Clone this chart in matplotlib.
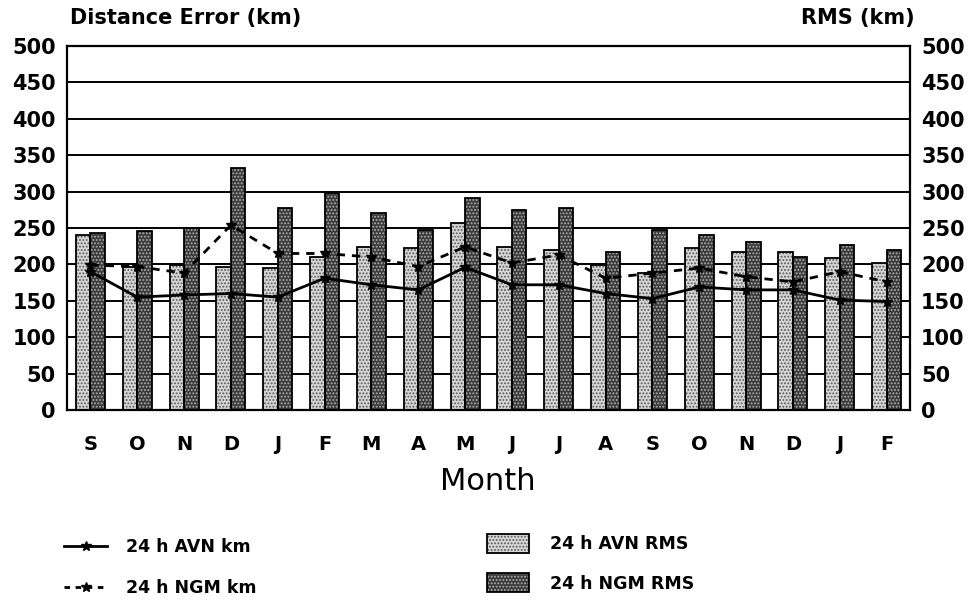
import matplotlib
matplotlib.use("Agg")
import matplotlib.pyplot as plt
import numpy as np
from matplotlib.patches import Patch
from matplotlib.lines import Line2D
from matplotlib.legend_handler import HandlerTuple

months = ['S', 'O', 'N', 'D', 'J', 'F', 'M', 'A', 'M', 'J', 'J', 'A', 'S', 'O', 'N', 'D', 'J', 'F']
avn_rms = [240, 196, 199, 196, 195, 210, 224, 222, 257, 224, 220, 199, 188, 222, 217, 217, 209, 202]
ngm_rms = [243, 246, 250, 332, 277, 298, 270, 247, 291, 275, 277, 217, 247, 240, 231, 210, 227, 220]
avn_km = [190, 155, 158, 160, 155, 181, 172, 165, 196, 172, 172, 160, 153, 169, 165, 165, 151, 149]
ngm_km = [199, 197, 188, 254, 215, 215, 210, 197, 224, 202, 213, 181, 188, 195, 183, 176, 190, 176]
yticks = [0, 50, 100, 150, 200, 250, 300, 350, 400, 450, 500]

plt.rcParams['font.family'] = ['DejaVu Sans']
plt.rcParams['hatch.linewidth'] = 0.9

fig = plt.figure(figsize=(9.77, 6.02), dpi=100)
ax = fig.add_axes([67 / 977, 192 / 602, 843 / 977, 364 / 602])

x = np.arange(len(months))
w = 0.31
light_face, light_dot = '#d6d6d6', '#5a5a5a'
dark_face, dark_dot = '#3a3a3a', '#b0b0b0'

# grid behind bars
for v in yticks:
    ax.axhline(v, color='black', lw=1.4, zorder=0.5)

ax.bar(x - w / 2, avn_rms, w, color=light_face, edgecolor=light_dot, hatch='.....', lw=0, zorder=2)
ax.bar(x - w / 2, avn_rms, w, fill=False, edgecolor='black', lw=1.3, zorder=2.1)
ax.bar(x + w / 2, ngm_rms, w, color=dark_face, edgecolor=dark_dot, hatch='.....', lw=0, zorder=2)
ax.bar(x + w / 2, ngm_rms, w, fill=False, edgecolor='black', lw=1.3, zorder=2.1)

ax.plot(x, avn_km, color='black', lw=2.0, marker='*', ms=7, zorder=3)
ax.plot(x, ngm_km, color='black', lw=2.0, ls=(0, (3, 2.5)), marker='*', ms=7, zorder=3)

ax.set_xlim(-0.5, len(months) - 0.5)
ax.set_ylim(0, 500)
ax.set_yticks(yticks)
ax.set_yticklabels([str(v) for v in yticks], fontsize=15, fontweight='bold')
ax.set_xticks(x)
ax.set_xticklabels(months, fontsize=14, fontweight='bold')
ax.tick_params(axis='y', length=0, pad=8, labelright=True, right=False)
ax.tick_params(axis='x', length=0, pad=18)
for s in ax.spines.values():
    s.set_linewidth(1.6)

fig.text(70 / 977, 1 - 18 / 602, 'Distance Error (km)', fontsize=15, fontweight='bold',
         ha='left', va='center')
fig.text(915 / 977, 1 - 18 / 602, 'RMS (km)', fontsize=15, fontweight='bold',
         ha='right', va='center')
fig.text(488 / 977, 1 - 481 / 602, 'Month', fontsize=22, ha='center', va='center')

# legends
line_handles = [Line2D([], [], color='black', lw=2.0, marker='*', ms=7),
                Line2D([], [], color='black', lw=2.0, ls=(0, (2, 2)), marker='*', ms=7)]
fig.legend(line_handles, ['24 h AVN km', '24 h NGM km'],
           loc='upper left', bbox_to_anchor=(64 / 977, 1 - 538 / 602),
           frameon=False, prop={'size': 12.5, 'weight': 'bold'},
           handlelength=2.5, handletextpad=1.1, labelspacing=1.35,
           borderpad=0, borderaxespad=0)

bar_handles = [(Patch(facecolor=light_face, edgecolor=light_dot, hatch='.....', lw=0),
                Patch(fill=False, edgecolor='black', lw=1.3)),
               (Patch(facecolor=dark_face, edgecolor=dark_dot, hatch='.....', lw=0),
                Patch(fill=False, edgecolor='black', lw=1.3))]
fig.legend(bar_handles, ['24 h AVN RMS', '24 h NGM RMS'],
           loc='upper left', bbox_to_anchor=(487 / 977, 1 - 534 / 602),
           frameon=False, prop={'size': 12.5, 'weight': 'bold'},
           handlelength=2.4, handleheight=1.3, handletextpad=1.2, labelspacing=1.15,
           borderpad=0, borderaxespad=0,
           handler_map={tuple: HandlerTuple(ndivide=1, pad=0)})

fig.savefig('out.png', dpi=100)
